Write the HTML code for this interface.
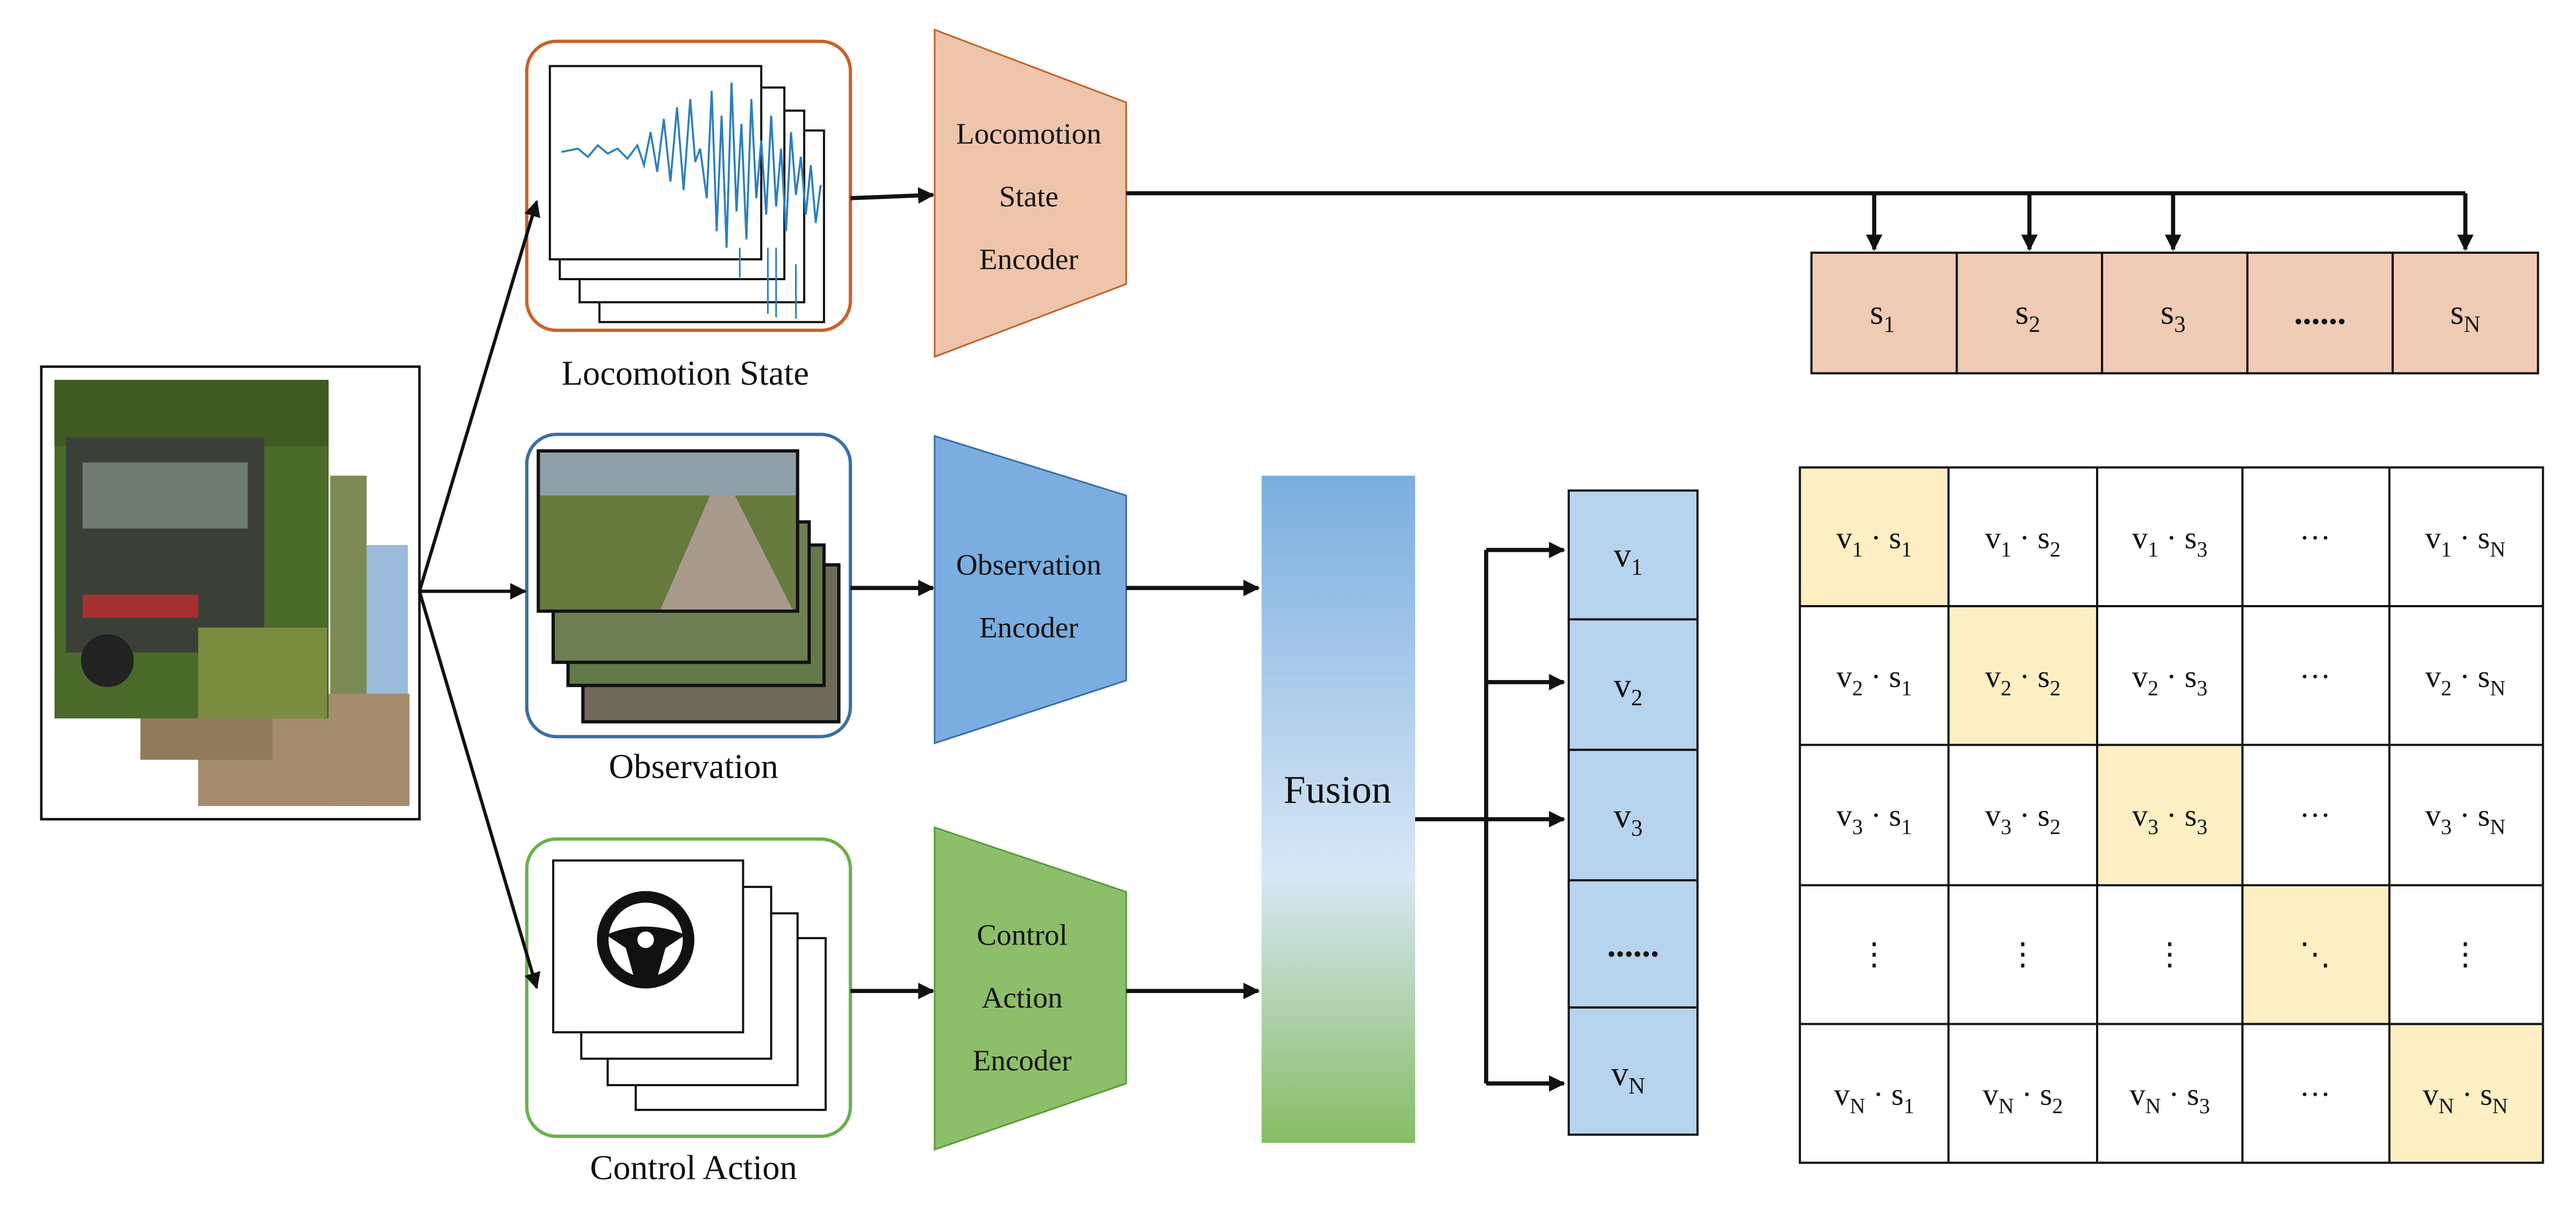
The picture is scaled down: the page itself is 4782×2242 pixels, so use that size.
<!DOCTYPE html>
<html><head><meta charset="utf-8"><style>
html,body{margin:0;padding:0;background:#fff;}
svg{display:block;}
text{font-family:"Liberation Serif",serif;fill:#111;}
</style></head><body>
<svg width="4782" height="2242" viewBox="0 0 1560 731.4" xmlns="http://www.w3.org/2000/svg">
<defs>
<marker id="ah" markerWidth="10" markerHeight="10" refX="9" refY="5" orient="auto" markerUnits="userSpaceOnUse">
<path d="M0,0 L10,5 L0,10 Z" fill="#111"/></marker>
<linearGradient id="fg" x1="0" y1="0" x2="0" y2="1">
<stop offset="0" stop-color="#7aaedf"/><stop offset="0.6" stop-color="#d8e7f6"/><stop offset="1" stop-color="#86bd63"/></linearGradient>
</defs>

<!-- left photo frame -->
<rect x="25" y="222" width="229" height="274" fill="#fff" stroke="#111" stroke-width="1.5"/>
<rect x="220" y="330" width="27" height="158" fill="#9bb9d8"/>
<rect x="200" y="288" width="22" height="200" fill="#7d8a55"/>
<rect x="120" y="420" width="128" height="68" fill="#a48c6c"/>
<rect x="85" y="420" width="80" height="40" fill="#8f7a5c"/>
<rect x="33" y="230" width="166" height="205" fill="#4a6a2a"/>
<rect x="33" y="230" width="166" height="40" fill="#3e5a22"/>
<rect x="40" y="265" width="120" height="130" fill="#3a3f38"/>
<rect x="50" y="280" width="100" height="40" fill="#6f7a70"/>
<rect x="50" y="360" width="70" height="14" fill="#a53030"/>
<circle cx="65" cy="400" r="16" fill="#222"/>
<rect x="120" y="380" width="78" height="55" fill="#7a8c40"/>

<!-- locomotion state box -->
<rect x="319" y="25" width="196" height="175" rx="18" fill="#fff" stroke="#c8622a" stroke-width="2"/>
<rect x="363" y="79" width="136" height="116" fill="#fff" stroke="#111" stroke-width="1.3"/>
<rect x="351" y="67" width="136" height="116" fill="#fff" stroke="#111" stroke-width="1.3"/>
<rect x="339" y="53" width="136" height="116" fill="#fff" stroke="#111" stroke-width="1.3"/>
<rect x="333" y="40" width="128" height="117" fill="#fff" stroke="#111" stroke-width="1.3"/>
<line x1="465" y1="150" x2="465" y2="190" stroke="#2d7fbf"/><line x1="470" y1="150" x2="470" y2="192" stroke="#2d7fbf"/><line x1="482" y1="160" x2="482" y2="193" stroke="#2d7fbf"/><line x1="448" y1="150" x2="448" y2="168" stroke="#2d7fbf"/>
<path d="M340,92 L350,90 L356,95 L362,88 L368,93 L374,90 L380,96 L386,88 L390,100 L394,80 L398,104 L402,72 L406,110 L410,65 L414,115 L418,60 L421,98 L424,90 L428,120 L431,55 L434,140 L437,70 L440,150 L443,50 L446,128 L449,75 L452,145 L455,60 L458,120 L461,85 L464,130 L467,70 L470,125 L473,90 L476,140 L479,80 L482,118 L485,95 L488,130 L491,100 L494,135 L497,112" fill="none" stroke="#2d7fbf" stroke-width="1.2"/>
<text x="415" y="233" font-size="21" text-anchor="middle">Locomotion State</text>

<!-- locomotion encoder -->
<line x1="515" y1="120" x2="565" y2="118" stroke="#111" stroke-width="2.5" marker-end="url(#ah)"/>
<polygon points="566,18 682,62 682,172 566,216" fill="#eec5ab" stroke="#c0622a" stroke-width="1"/>
<text x="623" y="87" font-size="18" text-anchor="middle">Locomotion</text>
<text x="623" y="125" font-size="18" text-anchor="middle">State</text>
<text x="623" y="163" font-size="18" text-anchor="middle">Encoder</text>
<line x1="682" y1="117" x2="1493" y2="117" stroke="#111" stroke-width="2.5"/>
<g stroke="#111" stroke-width="2.5" marker-end="url(#ah)">
<line x1="1135" y1="117" x2="1135" y2="151"/><line x1="1229" y1="117" x2="1229" y2="151"/>
<line x1="1316" y1="117" x2="1316" y2="151"/><line x1="1493" y1="117" x2="1493" y2="151"/></g>
<g fill="#f0cbb5" stroke="#111" stroke-width="1.3">
<rect x="1097" y="153" width="88" height="73"/><rect x="1185" y="153" width="88" height="73"/>
<rect x="1273" y="153" width="88" height="73"/><rect x="1361" y="153" width="88" height="73"/>
<rect x="1449" y="153" width="88" height="73"/></g>
<g font-size="21" text-anchor="middle">
<text x="1140" y="196">s<tspan font-size="14" dy="5">1</tspan></text>
<text x="1228" y="196">s<tspan font-size="14" dy="5">2</tspan></text>
<text x="1316" y="196">s<tspan font-size="14" dy="5">3</tspan></text>
<text x="1405" y="196" font-weight="bold">......</text>
<text x="1493" y="196">s<tspan font-size="14" dy="5">N</tspan></text></g>

<!-- observation -->
<rect x="319" y="263" width="196" height="183" rx="18" fill="#fff" stroke="#3a6ea5" stroke-width="2"/>
<g stroke="#111" stroke-width="2">
<rect x="353" y="342" width="155" height="95" fill="#6e6a5c"/>
<rect x="344" y="330" width="155" height="85" fill="#627a4a"/>
<rect x="335" y="316" width="155" height="85" fill="#6d7e52"/>
<rect x="326" y="273" width="157" height="97" fill="#8fa0a8"/></g>
<rect x="327" y="300" width="155" height="69" fill="#667a3e"/>
<polygon points="400,369 430,300 445,300 480,369" fill="#a89a8c"/>
<text x="420" y="471" font-size="21" text-anchor="middle">Observation</text>
<line x1="515" y1="356" x2="565" y2="356" stroke="#111" stroke-width="2.5" marker-end="url(#ah)"/>
<polygon points="566,264 682,300 682,412 566,450" fill="#7aaee0" stroke="#3a6ea5" stroke-width="1"/>
<text x="623" y="348" font-size="18" text-anchor="middle">Observation</text>
<text x="623" y="386" font-size="18" text-anchor="middle">Encoder</text>
<line x1="682" y1="356" x2="762" y2="356" stroke="#111" stroke-width="2.5" marker-end="url(#ah)"/>

<!-- control -->
<rect x="319" y="508" width="196" height="180" rx="18" fill="#fff" stroke="#6ab04c" stroke-width="2"/>
<g fill="#fff" stroke="#111" stroke-width="1.3">
<rect x="385" y="568" width="115" height="104"/><rect x="368" y="553" width="115" height="104"/>
<rect x="352" y="537" width="115" height="104"/><rect x="335" y="521" width="115" height="104"/></g>
<circle cx="391" cy="569" r="26" fill="none" stroke="#111" stroke-width="7"/>
<path d="M367,566 Q391,556 415,566 L403,574 L398,592 L384,592 L379,574 Z" fill="#111"/>
<circle cx="391" cy="569" r="6" fill="#fff" stroke="#111" stroke-width="2"/>
<text x="420" y="714" font-size="21" text-anchor="middle">Control Action</text>
<line x1="515" y1="600" x2="565" y2="600" stroke="#111" stroke-width="2.5" marker-end="url(#ah)"/>
<polygon points="566,501 682,540 682,656 566,696" fill="#8dbf6a" stroke="#5a9a3c" stroke-width="1"/>
<text x="619" y="572" font-size="18" text-anchor="middle">Control</text>
<text x="619" y="610" font-size="18" text-anchor="middle">Action</text>
<text x="619" y="648" font-size="18" text-anchor="middle">Encoder</text>
<line x1="682" y1="600" x2="762" y2="600" stroke="#111" stroke-width="2.5" marker-end="url(#ah)"/>

<!-- connectors from photo (drawn on top) -->
<line x1="254" y1="358" x2="325" y2="122" stroke="#111" stroke-width="2" marker-end="url(#ah)"/>
<line x1="254" y1="358" x2="318" y2="358" stroke="#111" stroke-width="2" marker-end="url(#ah)"/>
<line x1="254" y1="358" x2="325" y2="598" stroke="#111" stroke-width="2" marker-end="url(#ah)"/>

<!-- fusion -->
<rect x="764" y="288" width="93" height="404" fill="url(#fg)"/>
<text x="810" y="486" font-size="24" text-anchor="middle">Fusion</text>
<g stroke="#111" stroke-width="2.5" fill="none">
<line x1="857" y1="496" x2="900" y2="496"/><line x1="900" y1="333" x2="900" y2="656"/></g>
<g stroke="#111" stroke-width="2.5" marker-end="url(#ah)">
<line x1="900" y1="333" x2="947" y2="333"/><line x1="900" y1="413" x2="947" y2="413"/>
<line x1="900" y1="496" x2="947" y2="496"/><line x1="900" y1="656" x2="947" y2="656"/></g>
<g fill="#b7d4ee" stroke="#111" stroke-width="1.3">
<rect x="950" y="297" width="78" height="78"/><rect x="950" y="375" width="78" height="79"/>
<rect x="950" y="454" width="78" height="79"/><rect x="950" y="533" width="78" height="77"/>
<rect x="950" y="610" width="78" height="77"/></g>
<g font-size="21" text-anchor="middle">
<text x="986" y="343">v<tspan font-size="14" dy="5">1</tspan></text>
<text x="986" y="422">v<tspan font-size="14" dy="5">2</tspan></text>
<text x="986" y="501">v<tspan font-size="14" dy="5">3</tspan></text>
<text x="989" y="579" font-weight="bold">......</text>
<text x="986" y="657">v<tspan font-size="14" dy="5">N</tspan></text></g>

<!-- matrix -->
<g fill="#fdefc3">
<rect x="1090" y="283" width="90" height="84"/><rect x="1180" y="367" width="90" height="84"/>
<rect x="1270" y="451" width="88" height="85"/><rect x="1358" y="536" width="89" height="84"/>
<rect x="1447" y="620" width="93" height="84"/></g>
<g stroke="#111" stroke-width="1.3" fill="none">
<rect x="1090" y="283" width="450" height="421"/>
<line x1="1180" y1="283" x2="1180" y2="704"/><line x1="1270" y1="283" x2="1270" y2="704"/>
<line x1="1358" y1="283" x2="1358" y2="704"/><line x1="1447" y1="283" x2="1447" y2="704"/>
<line x1="1090" y1="367" x2="1540" y2="367"/><line x1="1090" y1="451" x2="1540" y2="451"/>
<line x1="1090" y1="536" x2="1540" y2="536"/><line x1="1090" y1="620" x2="1540" y2="620"/></g>
<g font-size="19" text-anchor="middle">
<text x="1135" y="332">v<tspan font-size="13" dy="5">1</tspan><tspan dy="-5"> · s</tspan><tspan font-size="13" dy="5">1</tspan></text>
<text x="1225" y="332">v<tspan font-size="13" dy="5">1</tspan><tspan dy="-5"> · s</tspan><tspan font-size="13" dy="5">2</tspan></text>
<text x="1314" y="332">v<tspan font-size="13" dy="5">1</tspan><tspan dy="-5"> · s</tspan><tspan font-size="13" dy="5">3</tspan></text>
<text x="1402" y="332">···</text>
<text x="1493" y="332">v<tspan font-size="13" dy="5">1</tspan><tspan dy="-5"> · s</tspan><tspan font-size="13" dy="5">N</tspan></text>
<text x="1135" y="416">v<tspan font-size="13" dy="5">2</tspan><tspan dy="-5"> · s</tspan><tspan font-size="13" dy="5">1</tspan></text>
<text x="1225" y="416">v<tspan font-size="13" dy="5">2</tspan><tspan dy="-5"> · s</tspan><tspan font-size="13" dy="5">2</tspan></text>
<text x="1314" y="416">v<tspan font-size="13" dy="5">2</tspan><tspan dy="-5"> · s</tspan><tspan font-size="13" dy="5">3</tspan></text>
<text x="1402" y="416">···</text>
<text x="1493" y="416">v<tspan font-size="13" dy="5">2</tspan><tspan dy="-5"> · s</tspan><tspan font-size="13" dy="5">N</tspan></text>
<text x="1135" y="500">v<tspan font-size="13" dy="5">3</tspan><tspan dy="-5"> · s</tspan><tspan font-size="13" dy="5">1</tspan></text>
<text x="1225" y="500">v<tspan font-size="13" dy="5">3</tspan><tspan dy="-5"> · s</tspan><tspan font-size="13" dy="5">2</tspan></text>
<text x="1314" y="500">v<tspan font-size="13" dy="5">3</tspan><tspan dy="-5"> · s</tspan><tspan font-size="13" dy="5">3</tspan></text>
<text x="1402" y="500">···</text>
<text x="1493" y="500">v<tspan font-size="13" dy="5">3</tspan><tspan dy="-5"> · s</tspan><tspan font-size="13" dy="5">N</tspan></text>
<text x="1135" y="584">⋮</text><text x="1225" y="584">⋮</text><text x="1314" y="584">⋮</text>
<text x="1402" y="584">⋱</text><text x="1493" y="584">⋮</text>
<text x="1135" y="669">v<tspan font-size="13" dy="5">N</tspan><tspan dy="-5"> · s</tspan><tspan font-size="13" dy="5">1</tspan></text>
<text x="1225" y="669">v<tspan font-size="13" dy="5">N</tspan><tspan dy="-5"> · s</tspan><tspan font-size="13" dy="5">2</tspan></text>
<text x="1314" y="669">v<tspan font-size="13" dy="5">N</tspan><tspan dy="-5"> · s</tspan><tspan font-size="13" dy="5">3</tspan></text>
<text x="1402" y="669">···</text>
<text x="1493" y="669">v<tspan font-size="13" dy="5">N</tspan><tspan dy="-5"> · s</tspan><tspan font-size="13" dy="5">N</tspan></text>
</g>
</svg>
</body></html>
